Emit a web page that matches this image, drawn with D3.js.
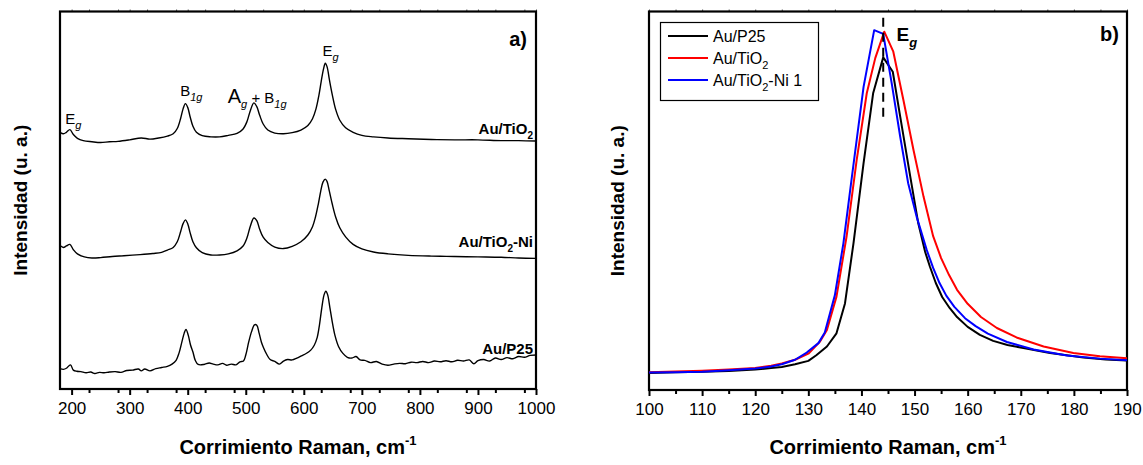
<!DOCTYPE html>
<html><head><meta charset="utf-8">
<script src="https://cdn.jsdelivr.net/npm/d3@7"></script>
<style>
body{margin:0;background:#fff;}
svg{display:block;font-family:"Liberation Sans",Arial,sans-serif;}
</style></head>
<body>
<svg id="c" width="1143" height="465"></svg>
<script>
// ---------- Panel a data (Raman shift, cm-1 ; intensity a.u.) ----------
const tio2X = [180,186,191,197,203,210,220,235,250,265,280,300,320,335,350,365,375,382,388,392,396,400,404,409,415,425,440,455,470,485,495,502,508,514,519,524,530,538,550,565,580,595,607,615,621,626,630,634,637,640,644,649,655,662,672,685,700,720,745,780,820,860,900,940,970,1000];
const tio2Y = [68.0,67.6,68.0,68.7,67.4,66.4,65.8,65.5,65.3,65.5,65.6,66.0,66.5,66.2,66.5,67.0,67.6,69.0,71.8,74.2,75.6,74.6,72.2,69.6,68.0,67.1,66.8,66.8,67.2,67.7,68.8,70.8,73.8,75.8,74.8,72.5,70.2,68.6,67.8,67.6,67.9,68.6,69.8,71.6,74.2,77.8,81.5,84.8,86.3,85.4,82.0,78.0,74.0,71.2,69.2,68.0,67.2,66.8,66.5,66.3,66.1,66.0,66.0,65.8,65.8,65.7];

const niX = [180,186,191,197,203,210,222,235,250,270,290,318,340,355,365,375,382,388,392,396,400,404,409,415,425,440,455,470,485,495,502,508,514,519,524,530,538,550,565,580,595,607,615,620,625,629,633,637,640,644,649,655,662,672,685,700,720,745,780,820,860,900,940,970,1000];
const niY = [38.0,37.5,37.9,38.3,36.9,35.8,35.0,34.7,34.8,35.1,35.3,35.6,35.9,36.2,36.8,37.5,39.0,41.8,43.8,44.8,43.8,41.5,39.0,37.4,36.1,35.5,35.5,35.8,36.6,37.8,40.0,43.2,45.3,44.6,42.3,40.2,38.8,37.6,37.2,37.8,39.0,40.8,43.0,45.5,49.0,52.3,54.8,55.6,55.0,52.4,49.0,45.5,42.7,40.3,38.3,37.1,36.3,35.8,35.4,35.2,35.1,35.0,34.9,34.7,34.6];

const p25X = [180,186,191,198,203,209,216,225,233,240,248,256,265,275,285,295,305,315,320,326,335,345,355,365,373,380,385,390,394,397,401,405,409,413,418,428,437,444,452,460,467,475,483,490,496,500,505,510,515,519,523,527,531,536,542,550,558,565,572,580,588,596,604,612,618,623,627,631,635,638,641,645,649,654,660,667,675,683,690,697,705,715,725,735,745,755,765,775,785,795,805,815,825,835,845,855,865,875,885,893,900,910,920,930,940,950,960,970,980,990,1000];
const p25Y = [5.4,5.2,5.5,6.4,5.0,4.7,4.6,4.3,4.5,4.1,4.4,4.3,4.5,4.6,4.4,4.9,5.0,5.3,4.8,5.3,4.8,5.4,5.7,6.0,6.6,7.6,9.5,12.5,14.8,15.8,14.2,11.6,9.8,7.6,6.5,6.5,6.9,6.6,6.4,6.8,6.3,6.6,6.4,7.2,7.4,9.0,12.4,15.2,17.0,16.9,14.8,12.4,10.8,9.2,7.8,7.3,6.6,7.4,7.8,7.7,8.2,8.8,9.4,10.3,11.6,13.6,17.0,21.5,25.0,25.9,25.0,21.5,17.8,14.0,11.2,9.5,8.4,8.2,8.6,7.7,7.6,7.0,7.3,6.6,6.3,6.6,6.8,6.7,7.1,7.0,7.3,7.0,7.4,7.2,7.5,7.2,7.6,7.4,7.7,6.7,7.5,7.8,7.4,8.2,7.8,8.3,8.0,8.6,8.4,8.9,9.0];

const ticksA = [200,300,400,500,600,700,800,900,1000];

// ---------- Panel b data ----------
const p25bX = [100,105,110,115,120,123,125,127.5,130,131.5,133.5,135.3,136.9,138.5,140.4,142.2,144.1,145.9,147.3,149.2,150.7,152.0,152.9,154.0,155.2,156.6,158.0,160.0,162.3,164.8,167.5,170.5,175.5,181.8,186,190];
const p25bY = [4.5,4.7,4.8,5.0,5.4,5.8,6.1,6.8,7.7,9.2,11.5,15.0,22.9,38.8,60.0,78.5,88.0,84.2,72.3,56.4,44.1,36.5,32.6,28.3,24.6,21.7,19.3,16.7,14.6,13.0,11.9,11.1,9.8,8.6,8.1,7.8];

const tio2bX = [100,105,110,115,120,123,125,127.5,130,132.2,133.5,135.3,137.2,139.1,141.0,142.6,144.3,146.0,147.9,149.8,151.7,153.5,155.0,156.5,158.0,160.0,162.5,165.5,169.2,174.3,179.9,184.9,190];
const tio2bY = [4.7,4.9,5.1,5.4,5.8,6.4,7.0,8.0,9.6,12.8,15.9,24.7,40.6,60.8,78.5,87.8,94.8,89.5,76.7,63.5,51.1,40.7,34.9,30.4,26.5,22.8,19.3,16.4,13.9,11.5,9.8,8.9,8.4];

const nibX = [100,105,110,115,120,123,125,127.5,129.7,131.9,133.1,135.0,136.6,138.2,140.4,142.4,144.1,145.7,147.3,148.8,150.4,152.3,153.5,154.7,156.0,157.5,159.5,161.5,163.8,167.4,172.4,178.7,184.9,190];
const nibY = [4.6,4.7,4.8,5.2,5.7,6.2,6.8,8.0,9.9,12.4,15.2,25.1,38.8,56.4,80.2,95.2,94.2,81.1,67.0,54.7,45.8,37.0,32.3,28.3,24.9,22.0,19.0,16.9,14.9,12.7,10.7,9.1,8.3,7.9];

const ticksB = [100,110,120,130,140,150,160,170,180,190];
const egLineX = 144.1;
const legendNames = ["Au/P25","Au/TiO","Au/TiO"];
const legendSubs = ["","2","2"];
const legendTails = ["","","-Ni 1"];
const legendColors = ["#000000","#ff0000","#0000ff"];

// ---------- Drawing ----------
const svg = d3.select("#c");
const FONT = "'Liberation Sans',Arial,sans-serif";

function panel(opt){
  const g = svg.append("g");
  const x = d3.scaleLinear().domain(opt.xd).range([opt.l, opt.r]);
  const y = d3.scaleLinear().domain([0,100]).range([opt.b, opt.t]);
  const minor = d3.range(opt.xd[0], opt.xd[1]+1e-9, opt.minorStep).filter(v => Math.abs(v/opt.majorStep - Math.round(v/opt.majorStep))>1e-6 && v>opt.xd[0]);
  const ax = g.append("g").attr("transform",`translate(0,${opt.b})`)
    .call(d3.axisBottom(x).tickValues(opt.ticks).tickSize(6).tickPadding(7).tickFormat(d3.format("d")));
  ax.select(".domain").remove();
  ax.selectAll(".tick line").attr("stroke-width",2);
  ax.selectAll(".tick text").attr("font-size",17).attr("font-family",FONT).attr("fill","#000");
  const axm = g.append("g").attr("transform",`translate(0,${opt.b})`)
    .call(d3.axisBottom(x).tickValues(minor).tickSize(4).tickFormat(""));
  axm.select(".domain").remove();
  axm.selectAll(".tick line").attr("stroke-width",2);
  const axt = g.append("g").attr("transform",`translate(0,${opt.t})`)
    .call(d3.axisTop(x).tickValues(opt.ticks.concat(minor)).tickSize(2).tickFormat(""));
  axt.select(".domain").remove();
  axt.selectAll(".tick line").attr("stroke-width",1).attr("stroke","#555");
  g.append("rect").attr("x",opt.l).attr("y",opt.t).attr("width",opt.r-opt.l).attr("height",opt.b-opt.t)
    .attr("fill","none").attr("stroke","#000").attr("stroke-width",2.2);
  const xt = g.append("text").attr("x",(opt.l+opt.r)/2).attr("y",opt.xtY).attr("text-anchor","middle")
    .attr("font-size",20).attr("font-weight","bold").attr("font-family",FONT);
  xt.append("tspan").text("Corrimiento Raman, cm");
  xt.append("tspan").attr("dy",-9).attr("font-size",13).text("-1");
  g.append("text").attr("transform",`translate(${opt.ytX},${(opt.t+opt.b)/2}) rotate(-90)`)
    .attr("text-anchor","middle").attr("font-size",19).attr("font-weight","bold").attr("font-family",FONT)
    .text("Intensidad (u. a.)");
  return {g,x,y};
}

function subText(g, x, y, parts, size, bold, anchor){
  const t = g.append("text").attr("x",x).attr("y",y).attr("text-anchor",anchor||"start")
    .attr("font-size",size).attr("font-family",FONT).attr("font-weight",bold?"bold":"normal");
  parts.forEach(p=>{
    const s = t.append("tspan").text(p.t);
    if(p.sub){ s.attr("dy",p.dy||5).attr("font-size",p.fs||size*0.65); if(p.it) s.attr("font-style","italic"); }
    if(p.back){ s.attr("dy",-(p.back)); }
    if(p.fsz) s.attr("font-size",p.fsz);
  });
  return t;
}

// Panel a
const A = panel({xd:[180,1000], l:60, r:536, t:11.5, b:389, ticks:ticksA, majorStep:100, minorStep:50, xtY:454, ytX:27});
const lineA = d3.line().x(d=>A.x(d[0])).y(d=>A.y(d[1])).curve(d3.curveCatmullRom.alpha(0.5));
[[tio2X,tio2Y],[niX,niY],[p25X,p25Y]].forEach(([xs,ys])=>{
  A.g.append("path").datum(xs.map((v,i)=>[v,ys[i]])).attr("d",lineA)
    .attr("fill","none").attr("stroke","#000").attr("stroke-width",1.4);
});
subText(A.g, 533, 134, [{t:"Au/TiO"},{t:"2",sub:1,dy:5,fs:10},{t:"",back:5}], 15, true, "end");
subText(A.g, 533, 247, [{t:"Au/TiO"},{t:"2",sub:1,dy:5,fs:10},{t:"-Ni",back:5}], 15, true, "end");
subText(A.g, 533, 354, [{t:"Au/P25"}], 15, true, "end");
subText(A.g, A.x(189), 124, [{t:"E"},{t:"g",sub:1,dy:5,fs:11,it:1}], 15, false);
subText(A.g, A.x(387), 96, [{t:"B"},{t:"1g",sub:1,dy:5,fs:11,it:1}], 15, false);
subText(A.g, A.x(469), 103, [{t:"A",fsz:20},{t:"g",sub:1,dy:5,fs:11,it:1},{t:" + B",back:5},{t:"1g",sub:1,dy:5,fs:11,it:1}], 15, false);
subText(A.g, A.x(632), 56, [{t:"E"},{t:"g",sub:1,dy:5,fs:11,it:1}], 15, false);
A.g.append("text").attr("x",527).attr("y",46).attr("text-anchor","end").attr("font-size",20)
  .attr("font-weight","bold").attr("font-family",FONT).text("a)");

// Panel b
const B = panel({xd:[100,190], l:649, r:1127, t:11.5, b:390, ticks:ticksB, majorStep:10, minorStep:5, xtY:454, ytX:624});
B.y.range([390,12]);
const lineB = d3.line().x(d=>B.x(d[0])).y(d=>B.y(d[1]));
[[p25bX,p25bY,"#000000"],[tio2bX,tio2bY,"#ff0000"],[nibX,nibY,"#0000ff"]].forEach(([xs,ys,c])=>{
  B.g.append("path").datum(xs.map((v,i)=>[v,ys[i]])).attr("d",lineB)
    .attr("fill","none").attr("stroke",c).attr("stroke-width",2).attr("stroke-linejoin","round");
});
B.g.append("line").attr("x1",B.x(egLineX)).attr("x2",B.x(egLineX)).attr("y1",B.y(98.5)).attr("y2",B.y(71))
  .attr("stroke","#000").attr("stroke-width",2).attr("stroke-dasharray","9,6");
subText(B.g, B.x(146.6), 41, [{t:"E"},{t:"g",sub:1,dy:6,fs:13,it:1}], 19, true);
B.g.append("text").attr("x",1119).attr("y",41).attr("text-anchor","end").attr("font-size",20)
  .attr("font-weight","bold").attr("font-family",FONT).text("b)");
const lg = B.g.append("g");
lg.append("rect").attr("x",660.5).attr("y",22.5).attr("width",158).attr("height",78)
  .attr("fill","#fff").attr("stroke","#000").attr("stroke-width",1.2);
legendNames.forEach((n,i)=>{
  const yy = 36 + i*22;
  lg.append("line").attr("x1",668).attr("x2",708).attr("y1",yy).attr("y2",yy)
    .attr("stroke",legendColors[i]).attr("stroke-width",2);
  const parts = [{t:n}];
  if(legendSubs[i]) parts.push({t:legendSubs[i],sub:1,dy:5,fs:11});
  if(legendTails[i]) parts.push({t:legendTails[i],back:5});
  subText(lg, 713, yy+6, parts, 16, false);
});
</script>
</body></html>
